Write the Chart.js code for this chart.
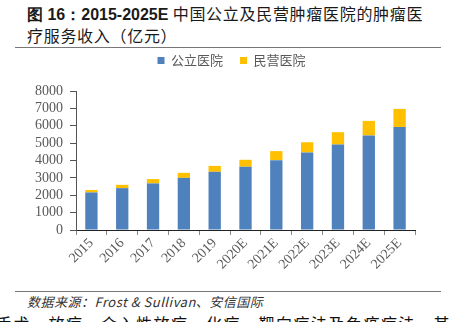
<!DOCTYPE html>
<html>
<head>
    <meta charset="UTF-8">
    <title>肿瘤医疗服务收入</title>
    <style>
        body { margin: 0; padding: 0; width: 449px; height: 322px; overflow: hidden; background: #fff; position: relative;
               font-family: "Noto Sans CJK SC", "Liberation Sans", sans-serif; }
        #title { position: absolute; left: 27px; top: 3px; width: 410px; font-size: 16px; line-height: 21px; color: #1a1a1a; letter-spacing: 0.7px; }
        #title b { font-family: "Liberation Sans", Arial, sans-serif; font-weight: bold; letter-spacing: 0; }
        .rule { position: absolute; left: 15px; width: 426px; height: 1px; background: #777; }
        #chart-box { position: absolute; left: 0; top: 48px; width: 449px; height: 242px; }
        #source { position: absolute; left: 27px; top: 292px; font-size: 13px; font-style: italic; color: #333; letter-spacing: 0.5px; }
        #cut { position: absolute; left: -4px; top: 311px; font-size: 16px; color: #111; white-space: nowrap; letter-spacing: 1.5px; }
    </style>
</head>
<body>
    <div id="title"><b>图 16：2015-2025E</b> 中国公立及民营肿瘤医院的肿瘤医疗服务收入（亿元）</div>
    <div class="rule" style="top:47px"></div>
    <div id="chart-box"><canvas id="c"></canvas></div>
    <div class="rule" style="top:291px"></div>
    <div id="source">数据来源：Frost &amp; Sullivan、安信国际</div>
    <div id="cut">手术、放疗、介入性放疗、化疗、靶向疗法及免疫疗法，其</div>

    <script src="https://cdn.jsdelivr.net/npm/chart.js"></script>
    <script>
        const years = ['2015', '2016', '2017', '2018', '2019', '2020E', '2021E', '2022E', '2023E', '2024E', '2025E'];
        const publicHosp = [2160, 2410, 2680, 3000, 3350, 3640, 4020, 4460, 4920, 5440, 5930];
        const privateHosp = [140, 190, 250, 290, 340, 400, 520, 590, 710, 840, 1040];

        const serif = { family: "'Liberation Serif', 'Times New Roman', serif", size: 14 };

        // fixed legend block height, and nudge the legend to sit where the reference has it
        const legendGap = {
            id: 'legendGap',
            beforeInit(chart) {
                const fit = chart.legend.fit;
                chart.legend.fit = function () {
                    fit.call(this);
                    this.height = 43;
                };
            },
            afterLayout(chart) {
                chart.legend.left += 24;
                chart.legend.right += 24;
                chart.legend.top -= 11;
                chart.legend.bottom -= 11;
            }
        };

        new Chart(document.getElementById('c'), {
            type: 'bar',
            data: {
                labels: years,
                datasets: [
                    { label: '公立医院', data: publicHosp, backgroundColor: '#4f81bd', barPercentage: 0.4, categoryPercentage: 1 },
                    { label: '民营医院', data: privateHosp, backgroundColor: '#ffc000', barPercentage: 0.4, categoryPercentage: 1 }
                ]
            },
            plugins: [legendGap],
            options: {
                responsive: true,
                maintainAspectRatio: false,
                animation: false,
                layout: { padding: { left: 0, right: 34, top: 0, bottom: 0 } },
                plugins: {
                    legend: {
                        labels: {
                            boxWidth: 7, boxHeight: 7, color: '#595959', padding: 17,
                            font: { family: "'Noto Sans CJK SC', sans-serif", size: 13 }
                        }
                    },
                    tooltip: { enabled: false }
                },
                scales: {
                    x: {
                        stacked: true,
                        afterFit: (s) => { s.height = 60; },
                        grid: { display: true, drawOnChartArea: false, offset: true, tickLength: 5, color: '#888' },
                        border: { color: '#222', width: 1 },
                        ticks: { color: '#595959', font: serif, maxRotation: 45, minRotation: 45, padding: 0 }
                    },
                    y: {
                        stacked: true,
                        min: 0, max: 8000,
                        afterFit: (s) => { s.width = 76; },
                        grid: { display: true, drawOnChartArea: false, tickLength: 6, color: '#555' },
                        border: { color: '#555', width: 1 },
                        ticks: { stepSize: 1000, autoSkip: false, color: '#595959', font: serif, padding: 7, callback: (v) => String(v) }
                    }
                }
            }
        });
    </script>
</body>
</html>
